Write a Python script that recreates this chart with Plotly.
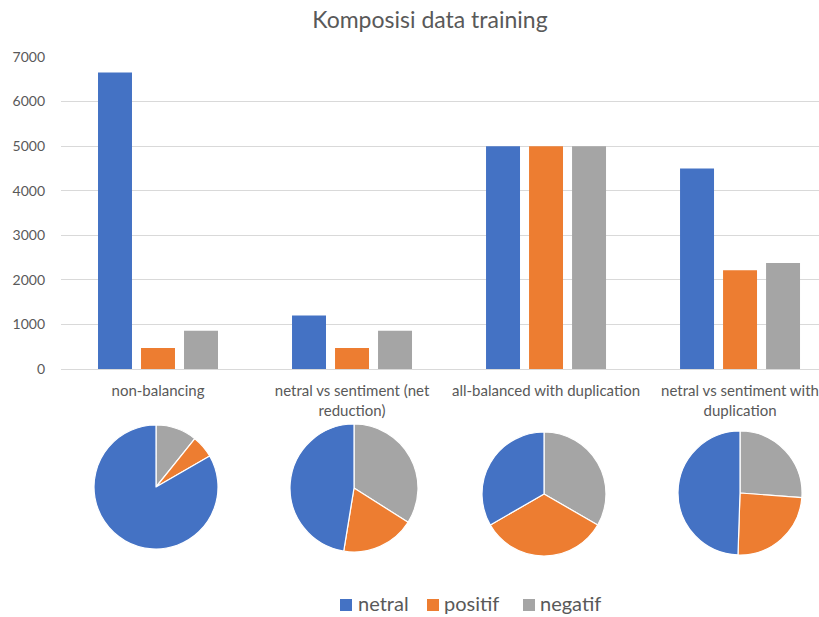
import plotly.graph_objects as go

categories = ["non-balancing", "netral vs sentiment (net<br>reduction)",
              "all-balanced with duplication", "netral vs sentiment with<br>duplication"]
series_names = ["netral", "positif", "negatif"]
netral = [6650, 1200, 5000, 4500]
positif = [470, 470, 5000, 2215]
negatif = [860, 860, 5000, 2380]
colors = ["#4472C4", "#ED7D31", "#A5A5A5"]
y_ticks = [0, 1000, 2000, 3000, 4000, 5000, 6000, 7000]

W, H = 819, 617
ML, MR, MT, MB = 61, 0, 0, 0
PW, PH = W - ML - MR, H - MT - MB


def px_x(p):
    return (p - ML) / PW


def px_y(p):
    return 1 - (p - MT) / PH


fig = go.Figure()
for name, vals, c in zip(series_names, [netral, positif, negatif], colors):
    fig.add_trace(go.Bar(x=categories, y=vals, name=name, marker=dict(color=c, line=dict(width=0)),
                         xaxis="x", yaxis="y", showlegend=False))

# pies: centres & radii in pixels; drawn clockwise from 12 o'clock as negatif, positif, netral
pie_geom = [(156, 487, 62), (354, 488, 64), (544, 494, 62), (740, 493, 62)]
for i, (cx, cy, r) in enumerate(pie_geom):
    vals = [negatif[i], positif[i], netral[i]]
    labs = ["negatif", "positif", "netral"]
    fig.add_trace(go.Pie(values=vals, labels=labs, sort=False, direction="clockwise",
                         rotation=0, textinfo="none", hoverinfo="label+value",
                         marker=dict(colors=[colors[2], colors[1], colors[0]],
                                     line=dict(color="white", width=1.2)),
                         showlegend=False,
                         domain=dict(x=[px_x(cx - r), px_x(cx + r)],
                                     y=[px_y(cy + r), px_y(cy - r)])))

# legend drawn as squares + text (Excel-style tight spacing)
legend_square_x = [340, 427, 523]
legend_text_x = [356, 442, 538]
for name, c, sx, tx in zip(series_names, colors, legend_square_x, legend_text_x):
    fig.add_shape(type="rect", xref="paper", yref="paper",
                  x0=px_x(sx), x1=px_x(sx + 12), y0=px_y(611), y1=px_y(599),
                  fillcolor=c, line=dict(width=0))
    fig.add_annotation(text=name, xref="paper", yref="paper", x=px_x(tx), y=px_y(603),
                       xanchor="left", yanchor="middle", showarrow=False,
                       font=dict(size=20, color="#595959"))

fig.update_layout(
    width=W, height=H,
    margin=dict(l=ML, r=MR, t=MT, b=MB, autoexpand=False),
    paper_bgcolor="white", plot_bgcolor="white",
    font=dict(family="Lato, Open Sans, sans-serif", color="#595959", size=15),
    title=dict(text="Komposisi data training", x=0.525, xanchor="center", y=1 - 20 / H, yanchor="middle",
               font=dict(size=23, color="#595959")),
    barmode="group", bargap=0.335, bargroupgap=0.21,
    showlegend=False,
    xaxis=dict(range=[-0.5, 3.407], showgrid=False, showline=True, linecolor="#D9D9D9",
               ticks="", tickfont=dict(size=15, color="#595959"), ticklabelstandoff=8,
               anchor="y", automargin=False),
    yaxis=dict(domain=[px_y(369), px_y(57)], range=[0, 7000], tickvals=y_ticks,
               showgrid=True, gridcolor="#D9D9D9", zeroline=False, ticks="",
               tickfont=dict(size=14, color="#595959"), ticklabelstandoff=15, automargin=False),
)
fig.write_html("out.html", config={"displayModeBar": False},
               post_script="document.body.style.margin='0';document.body.style.overflow='hidden';")
